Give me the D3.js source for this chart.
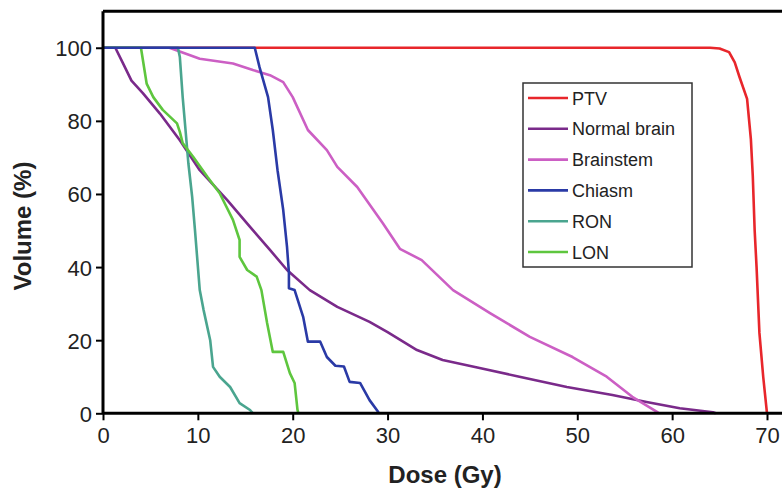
<!DOCTYPE html>
<html><head><meta charset="utf-8">
<script src="https://cdn.jsdelivr.net/npm/d3@7"></script>
<style>body{margin:0;background:#fff}svg text{font-family:"Liberation Sans",Arial,sans-serif}</style>
</head><body><svg id="c" width="782" height="494"></svg>
<script>
const seriesNames = ["PTV","Normal brain","Brainstem","Chiasm","RON","LON"];
const seriesColors = ["#e8262b","#7a2a8a","#cc5fc4","#2a3aa6","#4aa58f","#5ec63e"];
const xTicks = [0,10,20,30,40,50,60,70];
const yTicks = [0,20,40,60,80,100];

const ptv = [[0,100],[64,100],[65,99.8],[66,98.8],[66.6,96],[67.1,92],[67.9,86],[68.3,75],[68.5,65],[68.7,50],[68.9,40],[69.2,22],[69.6,10],[70,0]];
const normalBrain = [[0,100],[1.3,100],[2.1,95.8],[3.0,91],[4.2,87.6],[6.0,82],[8.1,74.7],[10.2,66.5],[13.1,58.3],[15.5,51],[17.6,44.7],[19.4,39.2],[21.8,33.7],[24.7,29.1],[28.1,25],[30,22.2],[33.1,17.3],[35.8,14.6],[39.7,12.4],[43.9,10],[48.9,7.2],[53.7,5],[57.3,3.1],[60.8,1.4],[64.3,0.3],[64.6,0]];
const brainstem = [[0,100],[7,100],[10.2,97],[13.7,95.7],[15.8,93.9],[17.6,92.5],[19,90.6],[20,86.5],[21.6,77.5],[23.6,72],[24.7,67.4],[26.8,61.9],[29.5,52],[31.3,45],[33.6,41.9],[36.9,33.7],[40.8,27.4],[45,20.9],[49.5,15.4],[53.1,10],[55.8,4.5],[58.4,0.4],[58.6,0]];
const chiasm = [[0,100],[16,100],[16.5,94.7],[17.4,86.5],[17.9,77.5],[18.4,66.5],[19,55.6],[19.4,45.5],[19.6,38.4],[19.6,34.2],[20.2,33.7],[21.1,26.4],[21.6,19.6],[22.9,19.6],[23.6,15.4],[24.5,13],[25.4,12.8],[26,8.6],[27.1,8.3],[28.1,3.6],[29,0.4],[29.1,0]];
const ron = [[0,100],[7.9,100],[8.1,97.5],[8.4,86.5],[8.7,77.5],[9.0,68.4],[9.4,59.2],[9.7,50],[10.2,33.7],[10.6,28.3],[11.3,20],[11.6,12.7],[12.3,10],[13.4,7.2],[14.4,2.8],[15.5,0.9],[15.8,0]];
const lon = [[0,100],[4.0,100],[4.6,90.2],[5.3,86.5],[6.3,83],[7.8,79.3],[8.1,77],[8.4,73.9],[9.5,70.2],[11,64.7],[12.3,60.2],[13.7,52.9],[14.4,47.4],[14.4,42.8],[15.2,39.2],[16.2,37.4],[16.7,33.7],[17.3,24.7],[17.9,16.8],[19,16.8],[19.7,11],[20.2,8.3],[20.5,1],[20.6,0]];
const seriesData = [ptv,normalBrain,brainstem,chiasm,ron,lon];

const svg = d3.select("#c");
const x = d3.scaleLinear().domain([0,70]).range([103,767]);
const y = d3.scaleLinear().domain([0,110]).range([413.3,11.2]);

svg.append("line").attr("x1",x(0)).attr("x2",782).attr("y1",y(110)).attr("y2",y(110)).attr("stroke","#000").attr("stroke-width",3);

const line = d3.line().x(d=>x(d[0])).y(d=>y(d[1]));
const order = [0,1,2,4,5,3];
order.forEach(i=>{
  svg.append("path").datum(seriesData[i]).attr("d",line).attr("fill","none")
    .attr("stroke",seriesColors[i]).attr("stroke-width",2.6).attr("stroke-linejoin","round");
});

const xAxis = svg.append("g").attr("transform",`translate(0,${y(0)})`)
  .call(d3.axisBottom(x).tickValues(xTicks).tickSize(7).tickPadding(6));
const yAxis = svg.append("g").attr("transform",`translate(${x(0)},0)`)
  .call(d3.axisLeft(y).tickValues(yTicks).tickSize(7).tickPadding(6));
[xAxis,yAxis].forEach(g=>{
  g.select(".domain").attr("stroke","#000").attr("stroke-width",3);
  g.selectAll(".tick line").attr("stroke","#000").attr("stroke-width",2);
  g.selectAll(".tick text").attr("font-size",22).attr("fill","#222");
});
xAxis.selectAll(".tick text").attr("dy","0.75em");
yAxis.selectAll(".tick text").attr("dy","0.36em").attr("x",-11);
xAxis.select(".domain").attr("d",`M${x(0)},0H782`);
yAxis.select(".domain").attr("d",`M0,${y(0)}V${y(110)}`);

svg.append("text").attr("x",445).attr("y",483).attr("text-anchor","middle")
  .attr("font-size",24).attr("font-weight","bold").attr("fill","#222").text("Dose (Gy)");
svg.append("text").attr("transform","translate(30.5,226) rotate(-90)").attr("text-anchor","middle")
  .attr("font-size",24).attr("font-weight","bold").attr("fill","#222").text("Volume (%)");

const lg = svg.append("g");
lg.append("rect").attr("x",523).attr("y",83).attr("width",169).attr("height",184)
  .attr("fill","#fff").attr("stroke","#333").attr("stroke-width",1.5);
seriesNames.forEach((n,i)=>{
  const yy = 98 + i*30.8;
  lg.append("line").attr("x1",528).attr("x2",568).attr("y1",yy).attr("y2",yy)
    .attr("stroke",seriesColors[i]).attr("stroke-width",2.6);
  lg.append("text").attr("x",572).attr("y",yy+6.5).attr("font-size",18).attr("fill","#222").text(n);
});
</script></body></html>
